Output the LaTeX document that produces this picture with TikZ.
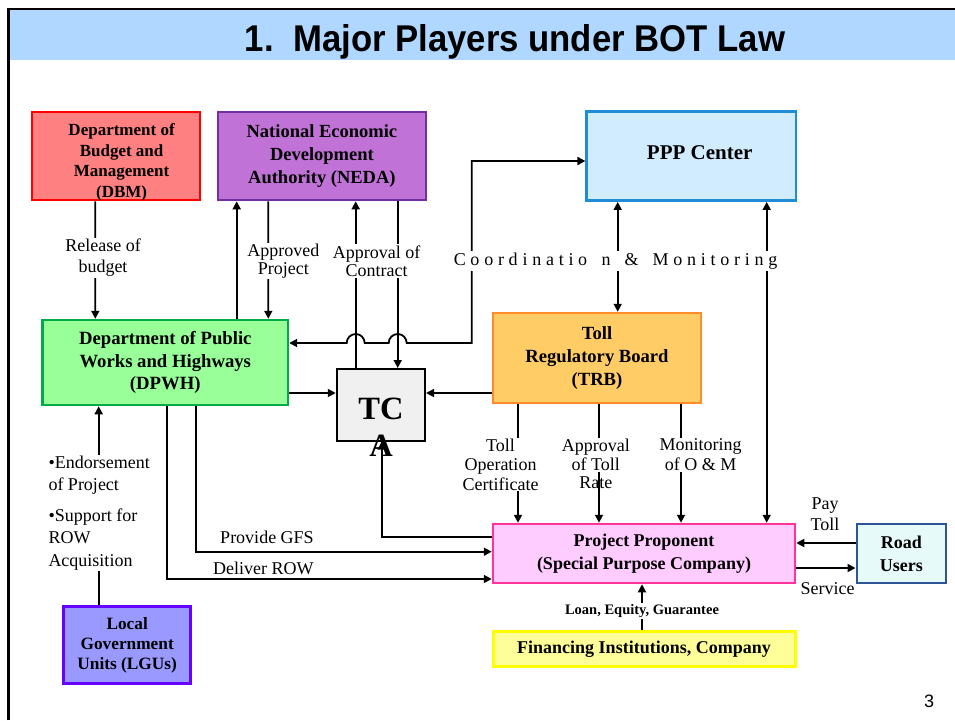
\documentclass[tikz,border=0pt]{standalone}
\usepackage{graphicx}
\usepackage{fontspec}
\setmainfont{Liberation Serif}
\newfontfamily\sansfont{Liberation Sans}
\usetikzlibrary{arrows.meta}
\definecolor{titleblue}{RGB}{175,215,255}
\definecolor{dbmfill}{RGB}{255,128,128}
\definecolor{dbmdraw}{RGB}{255,0,0}
\definecolor{nedafill}{RGB}{192,114,214}
\definecolor{nedadraw}{RGB}{112,48,160}
\definecolor{pppfill}{RGB}{210,236,255}
\definecolor{pppdraw}{RGB}{30,140,215}
\definecolor{dpwhfill}{RGB}{153,255,153}
\definecolor{dpwhdraw}{RGB}{0,170,68}
\definecolor{tcfill}{RGB}{240,240,240}
\definecolor{trbfill}{RGB}{255,204,102}
\definecolor{trbdraw}{RGB}{255,140,40}
\definecolor{ppfill}{RGB}{255,204,255}
\definecolor{ppdraw}{RGB}{255,51,153}
\definecolor{rufill}{RGB}{230,250,250}
\definecolor{rudraw}{RGB}{47,85,151}
\definecolor{fifill}{RGB}{255,255,153}
\definecolor{fidraw}{RGB}{255,255,0}
\definecolor{lgufill}{RGB}{153,153,255}
\definecolor{lgudraw}{RGB}{102,0,255}
\newcommand\ks{\kern4.75pt}
\begin{document}
\begin{tikzpicture}[x=1pt,y=-1pt,
  box/.style={draw, line width=2.5pt, inner sep=0pt, align=center},
  conn/.style={line width=1.8pt, -{Triangle[length=8pt,width=8pt]}},
  dconn/.style={line width=1.8pt, {Triangle[length=8pt,width=8pt]}-{Triangle[length=8pt,width=8pt]}},
  lbl/.style={fill=white, inner sep=1pt, align=center, font=\fontsize{18}{21}\selectfont},
  plain/.style={inner sep=0pt, align=center}
]
\useasboundingbox (0,0) rectangle (955,720);
% slide frame and title band
\fill[titleblue] (9.5,10) rectangle (955,60);
\draw[line width=2.4pt] (8.3,720) -- (8.3,8.8) -- (955,8.8);
\node[anchor=base, inner sep=0pt, font=\sansfont\bfseries\fontsize{10}{12}\selectfont] (title) at (515,51)
  {\resizebox{540pt}{27pt}{1.\ \ Major Players under BOT Law}};
\node[inner sep=0pt, font=\sansfont\fontsize{18}{20}\selectfont] (page) at (929,701.7) {3};

% boxes
\node[box, fill=dbmfill, draw=dbmdraw, minimum width=168.3pt, minimum height=88.3pt] (dbm) at (115.9,155.9) {};
\node[plain, font=\bfseries\fontsize{17}{20.6}\selectfont] (dbmtext) at (121.6,162.3) {Department of\\Budget and\\Management\\(DBM)};
\node[box, fill=nedafill, draw=nedadraw, minimum width=208.3pt, minimum height=88.3pt,
  font=\bfseries\fontsize{18.5}{23}\selectfont] (neda) at (321.9,155.9) {National Economic\\Development\\Authority (NEDA)};
\node[box, fill=pppfill, draw=pppdraw, minimum width=209.3pt, minimum height=89pt] (ppp) at (691.3,156.2) {};
\node[plain, font=\bfseries\fontsize{21}{25}\selectfont] (ppptext) at (699.7,152.5) {PPP Center};
\node[box, fill=dpwhfill, draw=dpwhdraw, minimum width=245.3pt, minimum height=85pt,
  font=\bfseries\fontsize{18.7}{22.5}\selectfont] (dpwh) at (165.3,362.5) {Department of Public\\Works and Highways\\(DPWH)};
\node[box, line width=2pt, fill=tcfill, draw=black, minimum width=88.3pt, minimum height=71.6pt] (tc) at (380.9,404.8) {};
\node[plain, font=\bfseries\fontsize{32.5}{37.4}\selectfont] (tctext) at (381,427) {TC\\A};
\node[box, fill=trbfill, draw=trbdraw, minimum width=208pt, minimum height=90pt,
  font=\bfseries\fontsize{18.6}{23}\selectfont] (trb) at (597,358) {Toll\\Regulatory Board\\(TRB)};
\node[box, fill=ppfill, draw=ppdraw, minimum width=302pt, minimum height=59pt,
  font=\bfseries\fontsize{18}{22.7}\selectfont] (pp) at (644,553.5) {Project Proponent\\(Special Purpose Company)};
\node[box, fill=rufill, draw=rudraw, minimum width=89.3pt, minimum height=59pt,
  font=\bfseries\fontsize{18}{23.3}\selectfont] (ru) at (901.4,553.5) {Road\\Users};
\node[box, line width=3pt, fill=fifill, draw=fidraw, minimum width=302pt, minimum height=35pt,
  font=\bfseries\fontsize{18}{22}\selectfont] (fi) at (644,649.2) {Financing Institutions, Company};
\node[box, fill=lgufill, draw=lgudraw, minimum width=127pt, minimum height=76.6pt,
  font=\bfseries\fontsize{17.3}{20}\selectfont] (lgu) at (127.2,645) {Local\\Government\\Units (LGUs)};

% connectors
\draw[conn] ([xshift=-20.6pt]dbm.south) -- ([xshift=-70pt]dpwh.north);
\draw[conn] ([xshift=71.4pt]dpwh.north) -- ([xshift=-85.2pt]neda.south);
\draw[conn] ([xshift=-53.6pt]neda.south) -- ([xshift=103pt]dpwh.north);
\draw[conn] ([xshift=-25.2pt]tc.north) -- ([xshift=33.8pt]neda.south);
\draw[conn] ([xshift=75.8pt]neda.south) -- ([xshift=16.8pt]tc.north);
\coordinate (cmA) at (471.7,343);
\coordinate (cmB) at (471.7,161);
\draw[dconn] ([yshift=19.5pt]dpwh.east) -- (346.7,343) arc[start angle=180, end angle=360, radius=9]
  -- (388.7,343) arc[start angle=180, end angle=360, radius=9] -- (cmA) -- (cmB) -- ([yshift=-4.8pt]ppp.west);
\draw[dconn] ([xshift=-73.6pt]ppp.south) -- ([xshift=20.7pt]trb.north);
\draw[dconn] ([xshift=75.4pt]ppp.south) -- ([xshift=122.7pt]pp.north);
\draw[conn] ([yshift=-30.5pt]dpwh.east) -- ([yshift=11.8pt]tc.west);
\draw[conn] ([yshift=-35pt]trb.west) -- ([yshift=11.8pt]tc.east);
\draw[conn] ([xshift=-79pt]trb.south) -- ([xshift=-126pt]pp.north);
\draw[conn] ([xshift=2pt]trb.south) -- ([xshift=-45pt]pp.north);
\draw[conn] ([xshift=84pt]trb.south) -- ([xshift=37pt]pp.north);
\draw[conn] ([yshift=16.5pt]pp.west) -| ([xshift=0.8pt]tc.south);
\draw[conn] ([xshift=30.4pt]dpwh.south) |- ([yshift=1.8pt]pp.west);
\draw[conn] ([xshift=1.7pt]dpwh.south) |- ([yshift=-25.5pt]pp.west);
\draw[conn] ([xshift=-28.5pt]lgu.north) -- ([xshift=-66.6pt]dpwh.south);
\draw[conn] ([yshift=10.5pt]ru.west) -- ([yshift=10.5pt]pp.east);
\draw[conn] ([yshift=-14.5pt]pp.east) -- ([yshift=-14.5pt]ru.west);
\draw[conn] ([xshift=-2pt]fi.north) -- ([xshift=-2pt]pp.south);

% labels
\node[lbl] (rel) at (103,258) {Release of\\budget};
\node[lbl, font=\fontsize{18}{18.5}\selectfont] (appr) at (283.3,261) {Approved\\Project};
\node[lbl, font=\fontsize{18}{18.5}\selectfont] (contr) at (376.7,261) {Approval of\\Contract};
\node[lbl, inner sep=2pt] (coord) at (615.5,261) {C\ks o\ks o\ks r\ks d\ks i\ks n\ks a\ks t\ks i\ks o\ks\ks\ks n\ks\ \ks\&\ks\ \ks M\ks o\ks n\ks i\ks t\ks o\ks r\ks i\ks n\ks g};
\node[lbl, font=\fontsize{18}{19.5}\selectfont] (toc) at (500.5,464.5) {Toll\\Operation\\Certificate};
\node[lbl, font=\fontsize{18}{19.5}\selectfont] (rate1) at (595.8,455) {Approval\\of Toll};
\node[plain, font=\fontsize{18}{19.5}\selectfont] (rate2) at (595.8,483) {Rate};
\node[lbl, font=\fontsize{18}{20}\selectfont] (mon) at (700.7,455) {Monitoring\\of O \& M};
\node[lbl, align=left, anchor=west, font=\fontsize{18}{22.5}\selectfont] (endorse) at (47.3,512.8)
  {•Endorsement\\of Project\\[8pt]•Support for\\ROW\\Acquisition};
\node[lbl] (gfs) at (267,537.7) {Provide GFS};
\node[lbl] (row) at (263.3,568.7) {Deliver ROW};
\node[lbl] (pay) at (825,514) {Pay\\Toll};
\node[lbl] (serv) at (827.5,589) {Service};
\node[lbl, font=\bfseries\fontsize{14.5}{16}\selectfont] (loan) at (642,611) {Loan, Equity, Guarantee};
\end{tikzpicture}
\end{document}
